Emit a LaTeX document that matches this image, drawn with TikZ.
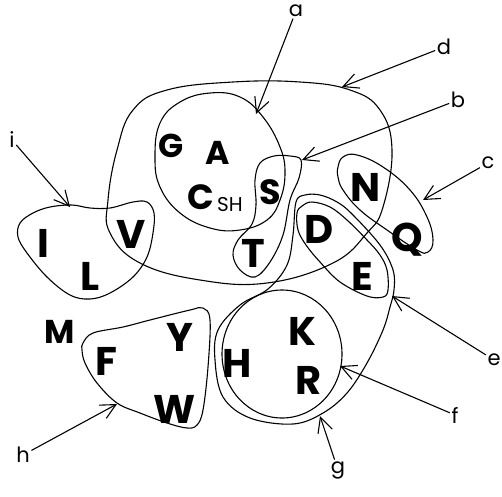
\documentclass[tikz,border=0pt]{standalone}
\usepackage{fontspec}
\setmainfont{Poppins}
\usetikzlibrary{arrows.meta}
\begin{document}
\begin{tikzpicture}[x=1pt,y=-1pt,
  setline/.style={line width=1.1pt, line join=round},
  big/.style={font=\bfseries\fontsize{40}{42}\selectfont, inner sep=0pt},
  mid/.style={font=\bfseries\fontsize{33}{35}\selectfont, inner sep=0pt},
  sml/.style={font=\bfseries\fontsize{35}{37}\selectfont, inner sep=0pt},
  sub/.style={font=\fontsize{20}{22}\selectfont, inner sep=0pt},
  lab/.style={font=\fontsize{21}{23}\selectfont, inner sep=1.5pt},
  arr/.style={line width=1.1pt, -{Straight Barb[length=15pt,width=15pt,line width=1.1pt]}}]
\useasboundingbox (0,0) rectangle (502,496);

% d : big loop
\draw[setline] plot[smooth cycle, tension=0.7] coordinates {
 (110,233) (140,263) (200,280) (267,283) (333,263) (367,233) (383,207)
 (392,150) (380,110) (350,90) (300,82) (233,82) (167,90) (133,110)
 (117,150) (108,200)};
% a : G A C circle
\draw[setline] plot[smooth cycle, tension=0.7] coordinates {
 (155,157) (160,123) (180,102) (210,93) (240,97) (263,117) (280,147)
 (285,173) (280,200) (267,220) (240,230) (210,228) (180,213) (160,187)};
% b : S T loop
\draw[setline] plot[smooth cycle, tension=0.6] coordinates {
 (290,156) (301,160) (299,178) (290,200) (283,235) (270,262) (255,277)
 (240,270) (233,255) (238,240) (252,224) (256,205) (255,180) (260,163) (274,156)};
% c : N Q loop
\draw[setline] plot[smooth cycle, tension=0.7] coordinates {
 (338,167) (343,157) (357,155) (383,167) (410,190) (427,217) (433,240)
 (428,252) (417,250) (387,230) (360,210) (343,190) (338,177)};
% e : D E loop
\draw[setline] plot[smooth cycle, tension=0.6] coordinates {
 (297,213) (302,206) (312,202) (330,207) (347,220) (367,240) (380,255)
 (387,270) (388,290) (383,297) (367,296) (340,282) (320,262) (306,245) (298,230)};
% g : outer loop round D E H K R
\draw[setline] plot[smooth cycle, tension=0.6] coordinates {
 (296,202) (305,195) (320,195) (337,202) (352,214) (380,245) (393,270)
 (394,290) (390,307) (383,330) (367,363) (347,393) (323,413) (293,424)
 (250,418) (223,397) (215,360) (218,330) (240,305) (268,289) (287,265) (293,235)};
% f : K R circle
\draw[setline] (282,354) ellipse [x radius=60, y radius=64];
% i : I L V loop
\draw[setline] plot[smooth cycle, tension=0.6] coordinates {
 (20,223) (33,213) (50,207) (72,205) (90,208) (110,208) (133,202)
 (147,202) (154,213) (153,233) (147,257) (133,277) (110,293) (90,299)
 (70,295) (47,277) (27,253) (18,237)};
% h : F Y W loop
\draw[setline] plot[smooth cycle, tension=0.6] coordinates {
 (83,343) (93,333) (123,327) (150,320) (190,310) (203,308) (210,320)
 (208,367) (203,410) (197,425) (187,428) (167,423) (140,413) (117,403)
 (97,383) (85,363) (82,350)};

% letters
\node[mid] (G) at (171,146) {G};
\node[mid] (A) at (218,153) {A};
\node[sml] (C) at (201,197) {C};
\node[sub] (SH) at (230,205) {SH};
\node[sml] (S) at (270,192) {S};
\node[big] (T) at (253,253) {T};
\node[big] (N) at (366,187) {N};
\node[big] (Q) at (407,240) {Q};
\node[big] (D) at (319,229) {D};
\node[big] (E) at (362,276) {E};
\node[big] (K) at (302,331) {K};
\node[big] (R) at (309,380) {R};
\node[big] (H) at (237,363) {H};
\node[big] (I) at (43,243) {I};
\node[big] (L) at (90,276) {L};
\node[big] (V) at (131,234) {V};
\node[mid] (M) at (60,332) {M};
\node[big] (F) at (106,361) {F};
\node[big] (Y) at (180,337) {Y};
\node[big] (W) at (175,409) {W};

% labels and arrows
\node[lab] (la) at (296,11) {a};
\node[lab] (ld) at (444,47) {d};
\node[lab] (lb) at (458,100) {b};
\node[lab] (lc) at (488,163) {c};
\node[lab] (li) at (12,140) {i};
\node[lab] (le) at (494,360) {e};
\node[lab] (lf) at (455,415) {f};
\node[lab] (lg) at (338,470) {g};
\node[lab] (lh) at (23,455) {h};

\coordinate (ta) at (256,114);
\coordinate (td) at (342,87);
\coordinate (tb) at (302,160);
\coordinate (tc) at (423,200);
\coordinate (ti) at (70,207);
\coordinate (te) at (392,296);
\coordinate (tf) at (340,366);
\coordinate (tg) at (320,416);
\coordinate (th) at (117,404);

\draw[arr] (la) -- (ta);
\draw[arr] (ld) -- (td);
\draw[arr] (lb) -- (tb);
\draw[arr] (lc) -- (tc);
\draw[arr] (li) -- (ti);
\draw[arr] (le) -- (te);
\draw[arr] (lf) -- (tf);
\draw[arr] (lg) -- (tg);
\draw[arr] (lh) -- (th);
\end{tikzpicture}
\end{document}
